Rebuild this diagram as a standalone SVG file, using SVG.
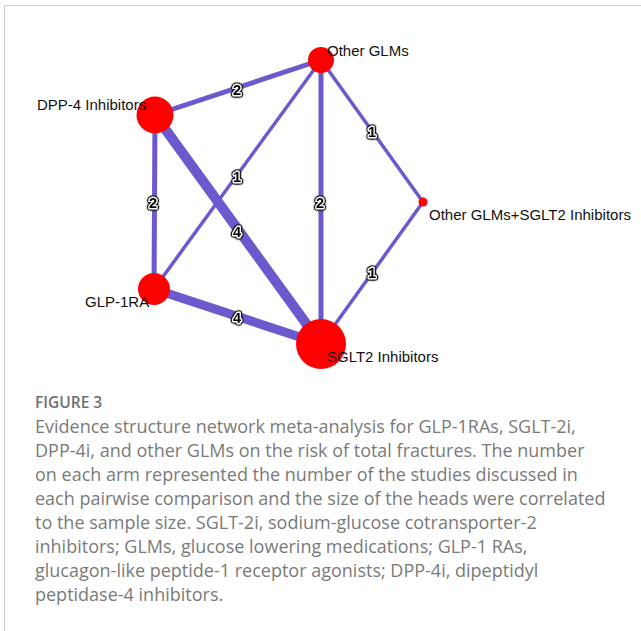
<svg xmlns="http://www.w3.org/2000/svg" width="641" height="631" viewBox="0 0 641 631">
  <style>
    .edge { stroke: #6a5acd; stroke-linecap: butt; fill: none; }
    .node { fill: #ff0000; }
    .nlabel { font-family: "Liberation Sans", Arial, sans-serif; font-size: 15px; fill: #111; }
    .count { font-family: "Liberation Sans", Arial, sans-serif; font-size: 14.5px; font-weight: bold; fill: #000; text-anchor: middle; stroke: #ffffff; stroke-width: 2.4px; stroke-linejoin: round; paint-order: stroke; filter: url(#rim); }
    .cap { font-family: "Open Sans", "Noto Sans", sans-serif; font-size: 18px; fill: #7a7a7a; }
    .fig { font-family: "Open Sans", "Noto Sans", sans-serif; font-size: 15.5px; font-weight: 600; fill: #707070; }
  </style>
  <defs>
    <!-- thin dark rim drawn round the white halo of the edge counts -->
    <filter id="rim" x="-50%" y="-50%" width="200%" height="200%">
      <feGaussianBlur in="SourceAlpha" stdDeviation="0.9" result="soft"/>
      <feComponentTransfer in="soft" result="grown">
        <feFuncA type="linear" slope="5" intercept="0"/>
      </feComponentTransfer>
      <feFlood flood-color="#1a1a1a" result="dark"/>
      <feComposite in="dark" in2="grown" operator="in" result="outline"/>
      <feMerge>
        <feMergeNode in="outline"/>
        <feMergeNode in="SourceGraphic"/>
      </feMerge>
    </filter>
  </defs>

  <rect width="641" height="631" fill="#ffffff"/>
  <path d="M4.5,631 V5.5 H641" fill="none" stroke="#cccccc" stroke-width="1"/>

  <g id="connectors">
    <line class="edge" x1="155" y1="115" x2="321" y2="60" stroke-width="5"/>
    <line class="edge" x1="155" y1="115" x2="154" y2="289" stroke-width="5"/>
    <line class="edge" x1="155" y1="115" x2="321" y2="344" stroke-width="10"/>
    <line class="edge" x1="321" y1="60" x2="154" y2="289" stroke-width="3.5"/>
    <line class="edge" x1="321" y1="60" x2="321" y2="344" stroke-width="5"/>
    <line class="edge" x1="321" y1="60" x2="423" y2="202" stroke-width="3.5"/>
    <line class="edge" x1="423" y1="202" x2="321" y2="344" stroke-width="3.5"/>
    <line class="edge" x1="154" y1="289" x2="321" y2="344" stroke-width="9"/>
    <text class="count" x="237" y="95">2</text>
    <text class="count" x="153" y="208">2</text>
    <text class="count" x="237" y="182">1</text>
    <text class="count" x="237" y="237">4</text>
    <text class="count" x="320" y="208">2</text>
    <text class="count" x="372" y="137">1</text>
    <text class="count" x="372" y="278">1</text>
    <text class="count" x="237" y="323">4</text>
  </g>

  <g id="node-other-glms">
    <circle class="node" cx="321" cy="60" r="13"/>
    <text class="nlabel" x="327" y="56">Other GLMs</text>
  </g>
  <g id="node-dpp4">
    <circle class="node" cx="155" cy="115" r="18.5"/>
    <text class="nlabel" x="37" y="110">DPP-4 Inhibitors</text>
  </g>
  <g id="node-glp1ra">
    <circle class="node" cx="154" cy="289" r="16"/>
    <text class="nlabel" x="85" y="307">GLP-1RA</text>
  </g>
  <g id="node-sglt2">
    <circle class="node" cx="321" cy="344" r="25"/>
    <text class="nlabel" x="327" y="362">SGLT2 Inhibitors</text>
  </g>
  <g id="node-other-glms-sglt2">
    <circle class="node" cx="423" cy="202" r="4.5"/>
    <text class="nlabel" x="429" y="220">Other GLMs+SGLT2 Inhibitors</text>
  </g>

  <g id="caption">
    <text class="fig" x="35" y="408">FIGURE 3</text>
    <text class="cap" x="35" y="433">Evidence structure network meta-analysis for GLP-1RAs, SGLT-2i,</text>
    <text class="cap" x="35" y="457">DPP-4i, and other GLMs on the risk of total fractures. The number</text>
    <text class="cap" x="35" y="481">on each arm represented the number of the studies discussed in</text>
    <text class="cap" x="35" y="505">each pairwise comparison and the size of the heads were correlated</text>
    <text class="cap" x="35" y="529">to the sample size. SGLT-2i, sodium-glucose cotransporter-2</text>
    <text class="cap" x="35" y="553">inhibitors; GLMs, glucose lowering medications; GLP-1 RAs,</text>
    <text class="cap" x="35" y="577">glucagon-like peptide-1 receptor agonists; DPP-4i, dipeptidyl</text>
    <text class="cap" x="35" y="601">peptidase-4 inhibitors.</text>
  </g>
</svg>
